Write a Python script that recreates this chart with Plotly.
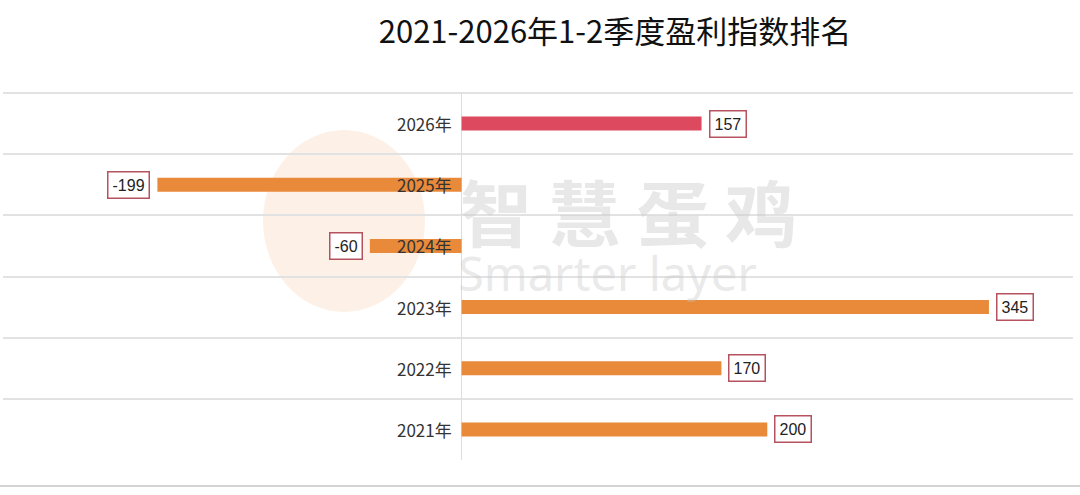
import plotly.graph_objects as go

categories = ["2021年", "2022年", "2023年", "2024年", "2025年", "2026年"]
values = [200, 170, 345, -60, -199, 157]
bar_colors = ["#e9893a", "#e9893a", "#e9893a", "#e9893a", "#e9893a", "#dd4a5f"]
title_text = "2021-2026年1-2季度盈利指数排名"

fig = go.Figure()
fig.add_trace(go.Bar(
    y=categories, x=values, orientation="h",
    marker=dict(color=bar_colors, line=dict(width=0)),
    width=0.23, hoverinfo="skip",
))

annotations = []
# watermark
annotations.append(dict(text="<b>智 慧 蛋 鸡</b>", xref="paper", yref="paper",
                        x=(458 - 3) / 1070, xanchor="left",
                        y=(460 - 213) / 367, yanchor="middle", yshift=4, showarrow=False,
                        font=dict(family="Noto Sans CJK SC", size=72, color="rgba(205,205,205,0.45)")))
annotations.append(dict(text="Smarter layer", xref="paper", yref="paper",
                        x=(456 - 3) / 1070, xanchor="left",
                        y=(460 - 273) / 367, showarrow=False,
                        font=dict(family="Noto Sans", size=47, color="rgba(200,200,200,0.4)")))

for c, v in zip(categories, values):
    annotations.append(dict(
        x=0, y=c, text=c, showarrow=False, xanchor="right", xshift=-8,
        font=dict(family="Noto Sans CJK SC", size=17, color="#333333"),
    ))
    annotations.append(dict(
        x=v, y=c, text=str(v), showarrow=False,
        xanchor="left" if v >= 0 else "right",
        xshift=7 if v >= 0 else -7,
        bgcolor="white", bordercolor="#b5525e", borderwidth=1.5, borderpad=4,
        font=dict(family="Liberation Sans", size=16, color="#222222"),
    ))

fig.update_layout(
    width=1080, height=495,
    margin=dict(l=3, r=7, t=93, b=35),
    paper_bgcolor="white", plot_bgcolor="white",
    showlegend=False,
    title=dict(text=title_text, x=615 / 1080, xanchor="center", xref="container",
               y=1 - 32 / 495, yanchor="middle", yref="container",
               font=dict(family="Noto Sans CJK SC", size=31, color="#111111")),
    xaxis=dict(range=[-300, 400], showgrid=False, showticklabels=False, ticks="",
               zeroline=True, zerolinecolor="#dddddd", zerolinewidth=1),
    yaxis=dict(type="category", categoryorder="array", categoryarray=categories,
               range=[-0.5, 5.5], tickson="boundaries", showgrid=True,
               gridcolor="#e2e2e2", gridwidth=2, showticklabels=False, ticks="",
               zeroline=False),
    annotations=annotations,
    shapes=[
        dict(type="circle", xref="paper", yref="paper",
             x0=(263 - 3) / 1070, x1=(425 - 3) / 1070,
             y0=(460 - 312) / 367, y1=(460 - 130) / 367,
             fillcolor="rgba(248,210,175,0.3)", line=dict(width=0), layer="below"),
        dict(type="line", xref="paper", yref="paper", x0=0, x1=1, y0=1, y1=1,
             line=dict(color="#e2e2e2", width=2), layer="below"),
        dict(type="line", xref="paper", yref="paper",
             x0=-3 / 1070, x1=1077 / 1070,
             y0=(460 - 486) / 367, y1=(460 - 486) / 367,
             line=dict(color="#d4d4d4", width=2)),
    ],
)

fig.write_html("out.html")
